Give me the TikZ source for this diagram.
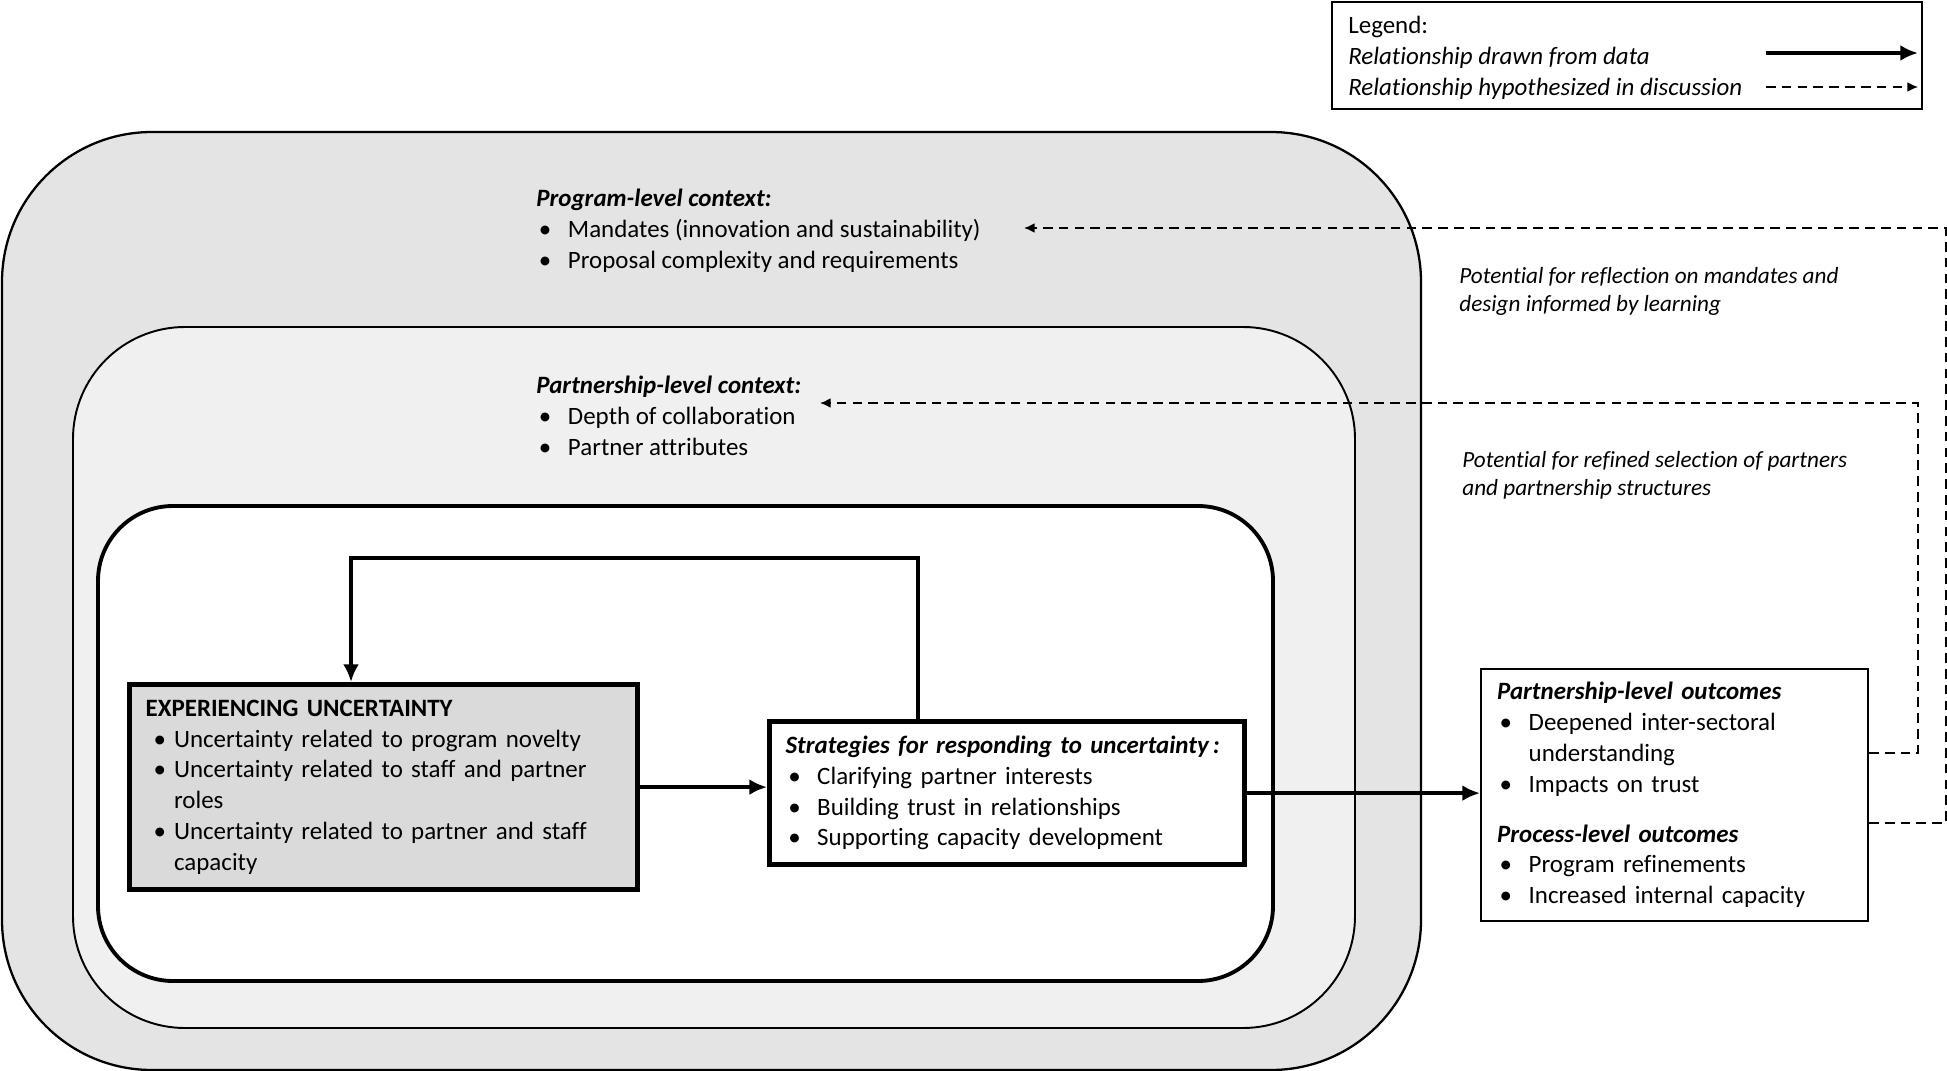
\documentclass[tikz,border=0pt]{standalone}
\usepackage{fontspec}
\setmainfont[Ligatures=NoCommon]{Carlito}
\usepackage{tikz}
\usetikzlibrary{arrows.meta,positioning,calc}
\usepackage{xcolor}

\definecolor{progfill}{gray}{0.894}
\definecolor{partfill}{gray}{0.941}
\definecolor{expfill}{gray}{0.855}
\newcommand{\bul}{\hspace*{1.5pt}\makebox[16.5pt][l]{\textbullet}}
\newcommand{\cont}{\hspace*{18pt}}
\newcommand{\ebul}{\hspace*{4.5pt}\makebox[11.7pt][l]{\textbullet}}
\newcommand{\econt}{\hspace*{16.2pt}}

\begin{document}
\begin{tikzpicture}[x=0.02cm,y=-0.02cm,>=Latex,
  font=\fontsize{14.2}{17.5}\selectfont,
  txt/.style={anchor=north west,align=left,inner sep=0pt},
  box/.style={draw,anchor=north west,align=left,inner xsep=0.32cm,inner ysep=0pt},
  flow/.style={-{Latex[length=10pt,width=9pt]},line width=2.5pt},
  hypo/.style={-{Latex[length=6pt,width=5.5pt]},line width=0.8pt,dash pattern=on 5.5pt off 3.5pt},
  note/.style={txt,font=\fontsize{13.2}{16}\selectfont\itshape}]
\useasboundingbox (0,0) rectangle (1947,1071);
% nested contexts
\draw[fill=progfill,line width=1.3pt,rounded corners=3cm] (2,132) rectangle (1421,1070);
\draw[fill=partfill,line width=1.1pt,rounded corners=2.24cm] (73,327) rectangle (1355,1028);
\draw[fill=white,line width=2.2pt,rounded corners=1.5cm] (98,506) rectangle (1273,981);

\node[txt] (progctx) at (536,189) {\textbf{\textit{Program-level context:}}\\
  \bul Mandates (innovation and sustainability)\\
  \bul Proposal complexity and requirements};
\node[txt] (partctx) at (536,376) {\textbf{\textit{Partnership-level context:}}\\
  \bul Depth of collaboration\\
  \bul Partner attributes};

% core process
\node[box,fill=expfill,line width=3pt,inner xsep=0.32cm,text width=9.52cm,minimum height=4.1cm] (exp) at (127,682)
  {\textbf{EXPERIENCING UNCERTAINTY}\\
  \ebul Uncertainty related to program novelty\\
  \ebul Uncertainty related to staff and partner\\
  \econt roles\\
  \ebul Uncertainty related to partner and staff\\
  \econt capacity};
\node[box,fill=white,line width=3pt,text width=8.86cm,minimum height=2.86cm] (strat) at (767,719)
  {\textbf{\textit{Strategies for responding to uncertainty\,:}}\\
  \bul Clarifying partner interests\\
  \bul Building trust in relationships\\
  \bul Supporting capacity development};
\node[box,fill=white,line width=1.2pt,text width=7.1cm,minimum height=5.04cm] (out) at (1480,668)
  {\textbf{\textit{Partnership-level outcomes}}\\
  \bul Deepened inter-sectoral\\
  \cont understanding\\
  \bul Impacts on trust\\[11pt]
  \textbf{\textit{Process-level outcomes}}\\
  \bul Program refinements\\
  \bul Increased internal capacity};

\coordinate (loopR) at (918,558);
\coordinate (loopL) at (351,558);
\draw[flow] (strat.north -| loopR) -- (loopR) -- (loopL) -- (loopL |- exp.north);
\draw[flow] (exp.east) -- (exp.east -| strat.west);
\draw[flow] (strat.east) -- (strat.east -| out.west);

% hypothesized feedback
\node[note] (reflnote) at (1459,267) {Potential for reflection on mandates and\\design informed by learning};
\node[note] (selnote) at (1462,451) {Potential for refined selection of partners\\and partnership structures};
\coordinate (progtip) at (1024,228);
\coordinate (parttip) at (820,403);
\coordinate (reflR) at (1946,228);
\coordinate (selR) at (1918,403);
\draw[hypo] ([yshift=-0.56cm]out.east) -| (reflR) -- (progtip);
\draw[hypo] ([yshift=0.84cm]out.east) -| (selR) -- (parttip);

% legend
\draw[line width=1.3pt] (1332,2) rectangle (1922,109);
\node[txt] (legend) at (1348,16) {Legend:\\
  \textit{Relationship drawn from data}\\
  \textit{Relationship hypothesized in discussion}};
\coordinate (lgA1) at (1766,53);
\coordinate (lgA2) at (1918,53);
\coordinate (lgB1) at (1766,87);
\coordinate (lgB2) at (1918,87);
\draw[flow,line width=2.2pt] (lgA1) -- (lgA2);
\draw[hypo] (lgB1) -- (lgB2);
\end{tikzpicture}
\end{document}
